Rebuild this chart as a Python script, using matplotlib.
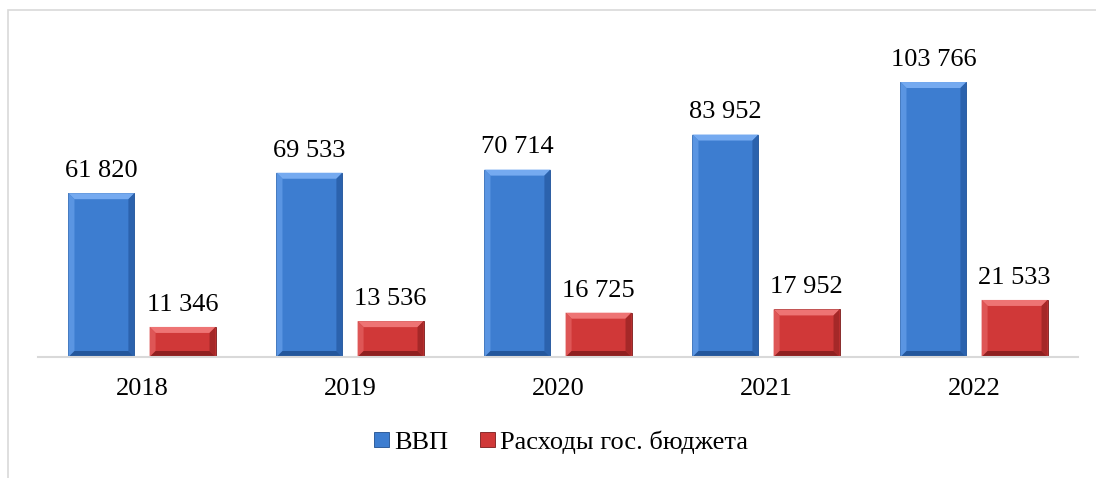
import matplotlib
matplotlib.use("Agg")
import matplotlib.pyplot as plt
import matplotlib.patches as patches
import numpy as np

plt.rcParams['font.family'] = ['Liberation Serif', 'DejaVu Serif']

years = ['2018', '2019', '2020', '2021', '2022']
gdp = [61820, 69533, 70714, 83952, 103766]
budget = [11346, 13536, 16725, 17952, 21533]
series_names = ['ВВП', 'Расходы гос. бюджета']

# main, top bevel, left bevel, right bevel, bottom bevel, edge
blue = ['#3d7dd0', '#75aaf0', '#5a95e2', '#2b62ad', '#24579c', '#1f4f8f']
red = ['#d03838', '#ee7474', '#de5656', '#a52828', '#8f2020', '#7a1a1a']

fig = plt.figure(figsize=(10.96, 4.78), dpi=100)
ax = fig.add_axes([38/1096, 121/478, 1040/1096, 318/478])

# outer frame of the chart area
fig.patches.append(patches.Rectangle((8/1096, -0.1), 1.2, 1 - 10/478 + 0.1,
                                     transform=fig.transFigure, fill=False,
                                     edgecolor='#d9d9d9', linewidth=1.2))

x = np.arange(len(years))
w = 0.317
off = 0.195
ymax = 120000
ax.set_xlim(-0.5, len(years) - 0.5)
ax.set_ylim(0, ymax)

b1 = ax.bar(x - off, gdp, w, color=blue[0], edgecolor=blue[5], linewidth=0.6, label=series_names[0])
b2 = ax.bar(x + off, budget, w, color=red[0], edgecolor=red[5], linewidth=0.6, label=series_names[1])

# bevel look: lighter top/left, darker right/bottom
bx = 6 / 208.0
by = 6 / 318.0 * ymax
def bevel(rect, cols):
    x0, x1 = rect.get_x(), rect.get_x() + rect.get_width()
    y0, y1 = 0, rect.get_height()
    faces = [
        ([(x0, y1), (x1, y1), (x1 - bx, y1 - by), (x0 + bx, y1 - by)], cols[1]),
        ([(x0, y0), (x0, y1), (x0 + bx, y1 - by), (x0 + bx, y0 + by)], cols[2]),
        ([(x1, y0), (x1, y1), (x1 - bx, y1 - by), (x1 - bx, y0 + by)], cols[3]),
        ([(x0, y0), (x1, y0), (x1 - bx, y0 + by), (x0 + bx, y0 + by)], cols[4]),
    ]
    for pts, c in faces:
        ax.add_patch(patches.Polygon(pts, closed=True, facecolor=c, edgecolor='none', zorder=2.5))

for rect in b1:
    bevel(rect, blue)
for rect in b2:
    bevel(rect, red)

def fmt(v):
    return '{:,}'.format(v).replace(',', ' ')

for bars, vals in ((b1, gdp), (b2, budget)):
    for rect, v in zip(bars, vals):
        ax.annotate(fmt(v), (rect.get_x() + rect.get_width() / 2, rect.get_height()),
                    xytext=(0, 8), textcoords='offset points',
                    ha='center', va='bottom', fontsize=19)

ax.set_xticks(x)
ax.set_xticklabels(years, fontsize=19)
ax.tick_params(axis='x', length=0, pad=15)
ax.set_yticks([])
for s in ('top', 'right', 'left'):
    ax.spines[s].set_visible(False)
ax.spines['bottom'].set_color('#d9d9d9')
ax.spines['bottom'].set_linewidth(1.5)

h1 = patches.Patch(facecolor=blue[0], edgecolor=blue[5], linewidth=0.6)
h2 = patches.Patch(facecolor=red[0], edgecolor=red[5], linewidth=0.6)
fig.legend(handles=[h1, h2], labels=series_names, loc='center',
           bbox_to_anchor=(561/1096, 1 - 442/478), ncol=2, frameon=False,
           fontsize=19, handlelength=0.58, handleheight=0.5,
           handletextpad=0.2, columnspacing=1.2)

fig.savefig('out.png', dpi=100)
